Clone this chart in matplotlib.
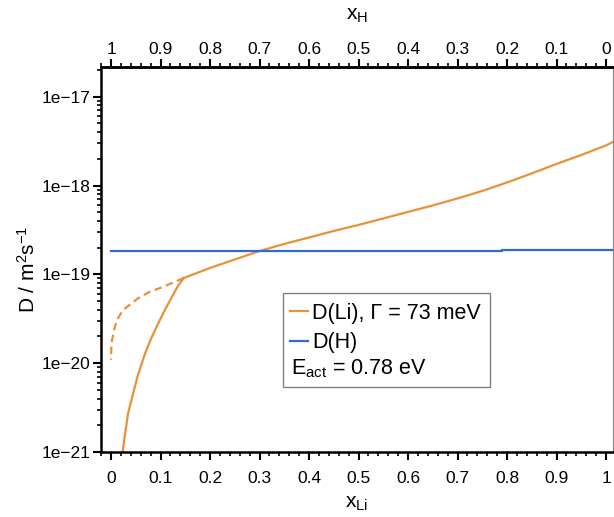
import math
import matplotlib
matplotlib.use("Agg")
import matplotlib.pyplot as plt
from matplotlib.ticker import MultipleLocator, FuncFormatter, LogLocator, NullFormatter
from matplotlib.patches import Rectangle

plt.rcParams['font.family'] = ['Liberation Sans', 'DejaVu Sans']
plt.rcParams['mathtext.fontset'] = 'custom'
plt.rcParams['mathtext.rm'] = 'Liberation Sans'
plt.rcParams['mathtext.it'] = 'Liberation Sans:italic'
plt.rcParams['mathtext.bf'] = 'Liberation Sans:bold'

# ---- data ----
li_x = [0.147, 0.2, 0.25, 0.3, 0.35, 0.4, 0.45, 0.5, 0.55, 0.6, 0.65, 0.7,
        0.75, 0.8, 0.85, 0.9, 0.95, 1.0, 1.014]
li_y = [9.1e-20, 1.18e-19, 1.47e-19, 1.83e-19, 2.20e-19, 2.60e-19, 3.08e-19,
        3.60e-19, 4.26e-19, 5.05e-19, 5.97e-19, 7.16e-19, 8.69e-19, 1.083e-18,
        1.37e-18, 1.75e-18, 2.21e-18, 2.83e-18, 3.10e-18]
li_low_x = [0.147, 0.1354, 0.1232, 0.109, 0.095, 0.0808, 0.0687, 0.0545,
            0.0444, 0.0343, 0.0262, 0.023]
li_low_y = [9.1e-20, 7.43e-20, 5.59e-20, 3.99e-20, 2.78e-20, 1.88e-20, 1.28e-20,
            7.4e-21, 4.5e-21, 2.69e-21, 1.3e-21, 9.3e-22]
li_dash_x = [0.147, 0.103, 0.079, 0.0545, 0.0242, 0.014, 0.008, 0.001, 0.0]
li_dash_y = [9.1e-20, 7.15e-20, 6.4e-20, 5.37e-20, 3.96e-20, 3.2e-20, 2.6e-20,
             1.69e-20, 1.09e-20]
h_x = [0.0, 0.79, 0.79, 1.014]
h_y = [1.83e-19, 1.83e-19, 1.88e-19, 1.88e-19]

x_ticks = [0.0, 0.1, 0.2, 0.3, 0.4, 0.5, 0.6, 0.7, 0.8, 0.9, 1.0]
y_ticks = [1e-21, 1e-20, 1e-19, 1e-18, 1e-17]

label_li = "D(Li), Γ = 73 meV"
label_h = "D(H)"
label_eact = r"E$_{\mathrm{act}}$ = 0.78 eV"

orange = "#E6923A"
blue = "#2F6BCB"

fig = plt.figure(figsize=(6.14, 5.17), dpi=100)
ax = fig.add_axes([101/614, 65/517, 512/614, 385/517])

l_li, = ax.plot(li_x, li_y, color=orange, lw=1.6)
ax.plot(li_low_x, li_low_y, color=orange, lw=1.6)
ax.plot(li_dash_x, li_dash_y, color=orange, lw=1.6, dashes=(3.4, 2.0))
l_h, = ax.plot(h_x, h_y, color=blue, lw=1.6)

ax.set_yscale('log')
ax.set_xlim(-0.0202, 1.014)
ax.set_ylim(1e-21, 2.16e-17)

def fmt_x(v, p):
    s = f"{v:.1f}".rstrip('0').rstrip('.')
    return "0" if s in ("-0", "") else s

ax.set_xticks(x_ticks)
ax.xaxis.set_major_formatter(FuncFormatter(fmt_x))
ax.xaxis.set_minor_locator(MultipleLocator(0.02))
ax.set_yticks(y_ticks)
ax.yaxis.set_major_formatter(FuncFormatter(lambda v, p: "1e\u2212%d" % round(-math.log10(v))))
ax.yaxis.set_minor_locator(LogLocator(base=10, subs=range(2, 10), numticks=50))
ax.yaxis.set_minor_formatter(NullFormatter())

for side in ('left', 'bottom', 'top'):
    ax.spines[side].set_linewidth(1.8)
ax.spines['right'].set_linewidth(0.8)
ax.spines['right'].set_color('#888888')

ax.tick_params(which='major', direction='out', length=5.5, width=1.5, labelsize=12.5)
ax.tick_params(which='minor', direction='out', length=3, width=1.2)
ax.tick_params(axis='x', which='major', pad=8)
ax.tick_params(axis='y', which='major', pad=2)
ax.tick_params(axis='both', which='both', top=False, right=False)

sec = ax.secondary_xaxis('top', functions=(lambda x: 1 - x, lambda x: 1 - x))
sec.set_xticks(x_ticks)
sec.xaxis.set_major_formatter(FuncFormatter(fmt_x))
sec.xaxis.set_minor_locator(MultipleLocator(0.02))
sec.tick_params(which='major', direction='out', length=5.5, width=1.5, labelsize=12.5, pad=1.5)
sec.tick_params(which='minor', direction='out', length=3, width=1.2)
sec.spines['top'].set_linewidth(1.8)
sec.set_xlabel(r"x$_{\mathrm{H}}$", fontsize=15, labelpad=16)

ax.set_xlabel(r"x$_{\mathrm{Li}}$", fontsize=15, labelpad=6)
ax.set_ylabel(r"D / m$^{2}$s$^{-1}$", fontsize=15)
ax.yaxis.set_label_coords(-0.121, 0.475)

# legend box
bx0, bx1 = (283 - 101) / 512, (490 - 101) / 512
by0, by1 = (452 - 387) / 385, (452 - 293) / 385
ax.add_patch(Rectangle((bx0, by0), bx1 - bx0, by1 - by0, transform=ax.transAxes,
                       fill=False, edgecolor='#808080', lw=1.0, zorder=5))
leg = ax.legend(handles=[l_li, l_h], labels=[label_li, label_h],
                loc='upper left', bbox_to_anchor=((290 - 101) / 512, (452 - 303) / 385),
                frameon=False, fontsize=15.5, handlelength=0.85, handletextpad=0.18,
                borderpad=0, borderaxespad=0, labelspacing=0.38)
ax.text((291 - 101) / 512, (452 - 369) / 385, label_eact, transform=ax.transAxes,
        fontsize=15.5, va='center', ha='left')

fig.savefig("out.png", dpi=100)
